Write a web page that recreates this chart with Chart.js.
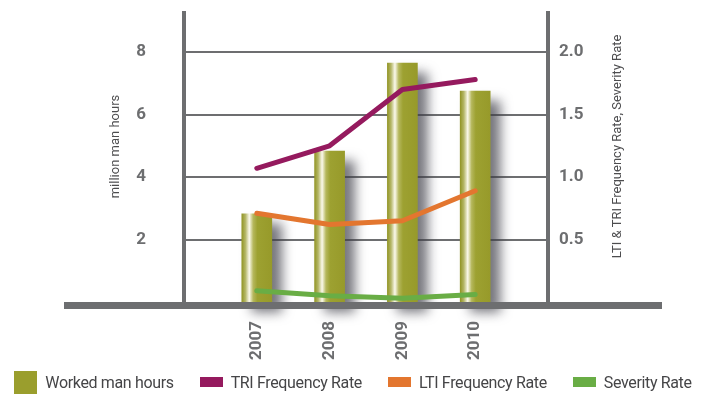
<!DOCTYPE html>
<html>
<head>
<title>Worked man hours and safety rates</title>
<script src="https://cdn.jsdelivr.net/npm/chart.js"></script>
<style>
    body { margin: 0; background: #fff; }
    #wrap { position: relative; width: 706px; height: 394px; }
    #legend {
        position: absolute; left: 0; top: 370px; width: 706px; height: 24px;
        display: flex; justify-content: center; align-items: center;
        font-family: Roboto, sans-serif; font-size: 16px; letter-spacing: -0.35px; color: #454547;
        white-space: nowrap;
    }
    .item { display: flex; align-items: center; margin: 0 13px; }
    .box { width: 23px; height: 10px; margin-right: 8px; flex: none; }
    .box.big { height: 23px; }
</style>
</head>
<body>
<div id="wrap">
    <canvas id="chart" width="706" height="394"></canvas>
    <div id="legend"></div>
</div>
<script>
const years = [2007, 2008, 2009, 2010];
const workedHours = [2.82, 4.83, 7.65, 6.75];   // million man hours
const triRate = [1.07, 1.25, 1.70, 1.78];
const ltiRate = [0.71, 0.62, 0.65, 0.89];
const severityRate = [0.09, 0.05, 0.03, 0.06];
const hourTicks = [2, 4, 6, 8];
const rateTicks = [0.5, 1.0, 1.5, 2.0];

const OLIVE = '#9a9e2d';
const GREY = '#6d6e70';
const TEXT = '#4d4d4f';
const BAR_W = 30;

function points(values) {
    return years.map(function(y, i) { return { x: y, y: values[i] }; });
}

// cylinder look: bright stripe left of centre
function barFill(c) {
    var xs = c.chart.scales.x;
    if (!xs || c.dataIndex == null) return OLIVE;
    var cx = xs.getPixelForValue(years[c.dataIndex]);
    if (!isFinite(cx)) return OLIVE;
    var g = c.chart.ctx.createLinearGradient(cx - BAR_W / 2, 0, cx + BAR_W / 2, 0);
    g.addColorStop(0, '#939627');
    g.addColorStop(0.12, '#b4b666');
    g.addColorStop(0.25, '#fbf9ec');
    g.addColorStop(0.38, '#b5b75c');
    g.addColorStop(0.52, '#9da131');
    g.addColorStop(1, '#979a2a');
    return g;
}

// no extra room for tick labels, the axis boxes are sized by hand
function noPadding(s) {
    s.paddingTop = 0;
    s.paddingBottom = 0;
    s.paddingLeft = 0;
    s.paddingRight = 0;
}

var barShadow = {
    id: 'barShadow',
    beforeDatasetDraw: function(chart, args) {
        if (args.index !== 0) return;
        var ctx = chart.ctx;
        ctx.save();
        ctx.shadowColor = 'rgba(60, 60, 70, 0.7)';
        ctx.shadowBlur = 12;
        ctx.shadowOffsetX = 10;
        ctx.shadowOffsetY = 10;
    },
    afterDatasetDraw: function(chart, args) {
        if (args.index === 0) chart.ctx.restore();
    }
};

// thick floor line running past both axes
var floorLine = {
    id: 'floorLine',
    afterDatasetsDraw: function(chart) {
        var ctx = chart.ctx, a = chart.chartArea;
        var y = chart.scales.y.getPixelForValue(0) + 3.5;
        ctx.save();
        ctx.strokeStyle = GREY;
        ctx.lineWidth = 7;
        ctx.beginPath();
        ctx.moveTo(a.left - 120, y);
        ctx.lineTo(a.right + 114, y);
        ctx.stroke();
        ctx.restore();
    }
};

// both axis titles read bottom-to-top
var sideTitles = {
    id: 'sideTitles',
    afterDraw: function(chart, args, opts) {
        var ctx = chart.ctx, a = chart.chartArea;
        opts.items.forEach(function(t) {
            var s = chart.scales[t.scale];
            ctx.save();
            ctx.translate(s.left + t.dx, (a.top + a.bottom) / 2 - 11);
            ctx.rotate(-Math.PI / 2);
            ctx.font = '13px Roboto';
            ctx.fillStyle = TEXT;
            ctx.textAlign = 'center';
            ctx.textBaseline = 'middle';
            ctx.fillText(t.text, 0, 0);
            ctx.restore();
        });
    }
};

var tickFont = { family: 'Roboto', size: 17, weight: 'bold' };

var chart = new Chart(document.getElementById('chart'), {
    type: 'bar',
    data: {
        datasets: [{
            label: 'Worked man hours',
            data: points(workedHours),
            backgroundColor: barFill,
            legendColor: OLIVE,
            barThickness: BAR_W,
            borderWidth: 0,
            clip: false,
            yAxisID: 'y',
            order: 2
        }, {
            type: 'line',
            label: 'TRI Frequency Rate',
            data: points(triRate),
            borderColor: '#951a5e',
            legendColor: '#951a5e',
            yAxisID: 'y1',
            order: 1
        }, {
            type: 'line',
            label: 'LTI Frequency Rate',
            data: points(ltiRate),
            borderColor: '#e3762f',
            legendColor: '#e3762f',
            yAxisID: 'y1',
            order: 1
        }, {
            type: 'line',
            label: 'Severity Rate',
            data: points(severityRate),
            borderColor: '#69ad45',
            legendColor: '#69ad45',
            yAxisID: 'y1',
            order: 1
        }]
    },
    options: {
        responsive: false,
        animation: false,
        layout: { padding: { top: 13, left: 0, right: 0, bottom: 32 } },
        elements: {
            line: { borderWidth: 5, tension: 0, borderCapStyle: 'round', borderJoinStyle: 'round', fill: false },
            point: { radius: 0 }
        },
        plugins: {
            legend: { display: false },
            tooltip: { enabled: false },
            sideTitles: {
                items: [
                    { scale: 'y', dx: 116, text: 'million man hours' },
                    { scale: 'y1', dx: 70, text: 'LTI & TRI Frequency Rate, Severity Rate' }
                ]
            }
        },
        scales: {
            x: {
                type: 'linear',
                min: 2006,
                max: 2011,
                offset: false,
                grid: { display: false, drawTicks: false, offset: false },
                border: { display: false },
                afterBuildTicks: function(s) { s.ticks = years.map(function(v) { return { value: v }; }); },
                afterFit: function(s) { s.height = 60; noPadding(s); },
                ticks: {
                    autoSkip: false,
                    minRotation: 90,
                    maxRotation: 90,
                    padding: 19,
                    color: GREY,
                    font: tickFont,
                    callback: function(v) { return String(v); }
                }
            },
            y: {
                position: 'left',
                min: 0,
                max: 9.25,
                grid: { color: GREY, lineWidth: 2, drawTicks: false },
                border: { display: true, color: GREY, width: 4 },
                afterBuildTicks: function(s) { s.ticks = hourTicks.map(function(v) { return { value: v }; }); },
                afterFit: function(s) { s.width = 184; noPadding(s); },
                ticks: { padding: 38, color: GREY, font: tickFont }
            },
            y1: {
                position: 'right',
                min: 0,
                max: 2.3125,
                grid: { display: false, drawTicks: false },
                border: { display: true, color: GREY, width: 4 },
                afterBuildTicks: function(s) { s.ticks = rateTicks.map(function(v) { return { value: v }; }); },
                afterFit: function(s) { s.width = 158; noPadding(s); },
                ticks: {
                    padding: 11, color: GREY, font: tickFont,
                    callback: function(v) { return v.toFixed(1); }
                }
            }
        }
    },
    plugins: [barShadow, floorLine, sideTitles]
});

// legend under the plot, built from the datasets
var legend = document.getElementById('legend');
chart.data.datasets.forEach(function(ds, i) {
    var item = document.createElement('div');
    item.className = 'item';
    var box = document.createElement('span');
    box.className = i === 0 ? 'box big' : 'box';
    box.style.background = ds.legendColor;
    var label = document.createElement('span');
    label.textContent = ds.label;
    item.appendChild(box);
    item.appendChild(label);
    legend.appendChild(item);
});
</script>
</body>
</html>
